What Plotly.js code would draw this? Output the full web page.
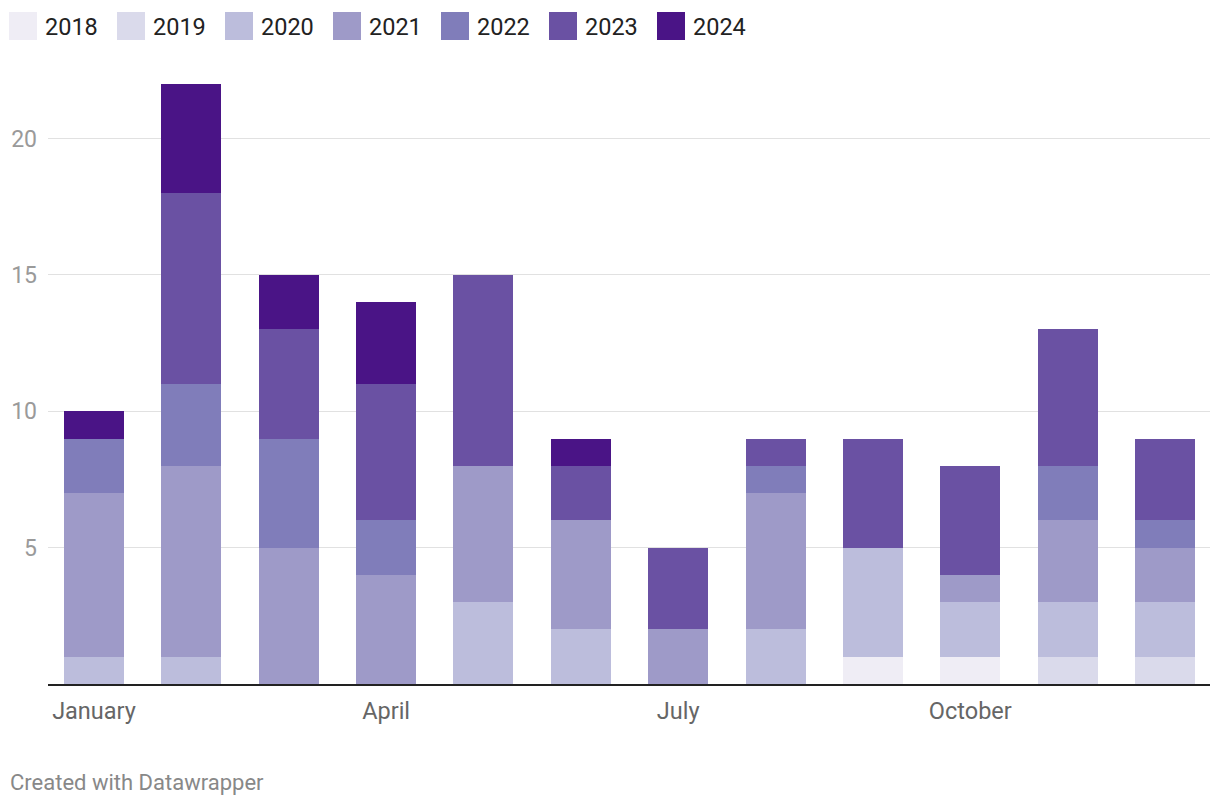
<!DOCTYPE html>
<html>
<head>
<meta charset="utf-8">
<script src="https://cdn.plot.ly/plotly-3.0.1.min.js"></script>
<style>
html,body{margin:0;padding:0;background:#fff;}
#chart{width:1220px;height:808px;}
</style>
</head>
<body>
<div id="chart"></div>
<script>
const months = ["January","February","March","April","May","June","July","August","September","October","November","December"];
const years = ["2018","2019","2020","2021","2022","2023","2024"];
const colors = ["#efedf5","#dadaeb","#bcbddc","#9e9ac8","#807dba","#6a51a3","#4a1486"];

const v2018 = [0,0,0,0,0,0,0,0,1,1,0,0];
const v2019 = [0,0,0,0,0,0,0,0,0,0,1,1];
const v2020 = [1,1,0,0,3,2,0,2,4,2,2,2];
const v2021 = [6,7,5,4,5,4,2,5,0,1,3,2];
const v2022 = [2,3,4,2,0,0,0,1,0,0,2,1];
const v2023 = [0,7,4,5,7,2,3,1,4,4,5,3];
const v2024 = [1,4,2,3,0,1,0,0,0,0,0,0];
const series = [v2018,v2019,v2020,v2021,v2022,v2023,v2024];

const xTickVals = ["January","April","July","October"];

const traces = years.map((y,i)=>({
  type:"bar",
  name:y,
  x:months,
  y:series[i],
  marker:{color:colors[i], line:{width:0}},
  hoverinfo:"x+y+name"
}));

const FONT = "Roboto, 'Noto Sans', sans-serif";

// plot area geometry (pixels) used to place legend/footer in paper coords
const PL = 48, PW = 1162, PB = 684, PH = 600;
const px = x => (x - PL) / PW;
const py = y => (PB - y) / PH;

const shapes = [];
const annotations = [];
const legStartX = 9, legStep = 108, sq = 28, legTop = 12;
years.forEach((y,i)=>{
  const x0 = legStartX + i*legStep;
  shapes.push({type:"rect", xref:"paper", yref:"paper",
    x0:px(x0), x1:px(x0+sq), y0:py(legTop+sq), y1:py(legTop),
    fillcolor:colors[i], line:{width:0}, layer:"above"});
  annotations.push({xref:"paper", yref:"paper",
    x:px(x0+sq+6), y:py(legTop+sq/2+1),
    xanchor:"left", yanchor:"middle", showarrow:false,
    text:y, font:{family:FONT, size:23.5, color:"#222"}});
});

annotations.push({xref:"paper", yref:"paper", x:px(8), y:py(782),
  xanchor:"left", yanchor:"middle", showarrow:false,
  text:"Created with Datawrapper", font:{family:FONT, size:22, color:"#888"}});

const layout = {
  width:1220, height:808,
  margin:{l:48, r:10, t:84, b:124},
  paper_bgcolor:"#fff", plot_bgcolor:"#fff",
  barmode:"stack",
  bargap:0.384,
  showlegend:false,
  font:{family:FONT},
  xaxis:{
    type:"category",
    range:[-0.4725, 11.462],
    tickmode:"array",
    tickvals:xTickVals,
    ticktext:xTickVals,
    tickfont:{family:FONT, size:23.5, color:"#666"},
    ticks:"",
    ticklabelstandoff:5,
    showgrid:false,
    showline:true, linecolor:"#222", linewidth:2,
    zeroline:false,
    fixedrange:true
  },
  yaxis:{
    range:[0,22],
    tickvals:[5,10,15,20],
    tickfont:{family:FONT, size:23, color:"#9a9a9a"},
    showgrid:true, gridcolor:"#e1e1e1", gridwidth:1,
    zeroline:false,
    ticks:"",
    ticklabelstandoff:10,
    showline:false,
    fixedrange:true
  },
  shapes:shapes,
  annotations:annotations
};

Plotly.newPlot("chart", traces, layout, {displayModeBar:false, staticPlot:true});
</script>
</body>
</html>
